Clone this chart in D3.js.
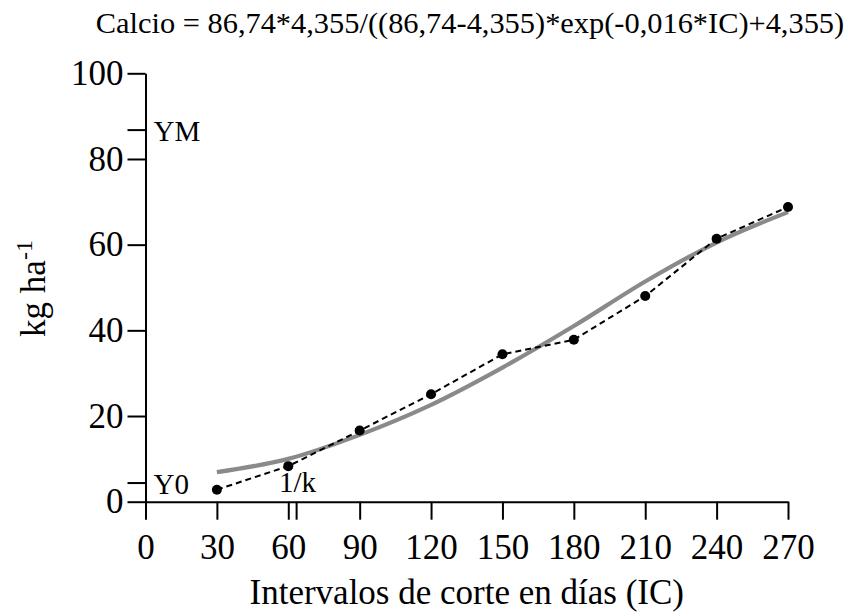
<!DOCTYPE html>
<html>
<head>
<meta charset="utf-8">
<script src="https://cdn.jsdelivr.net/npm/d3@7"></script>
<style>
  body { margin: 0; background: #fff; }
  text { font-family: "Liberation Serif", "Times New Roman", serif; fill: #000; }
</style>
</head>
<body>
<div id="chart"></div>
<script>
// data
const icDays = [30, 60, 90, 120, 150, 180, 210, 240, 270];
const calcioObs = [2.8, 8.3, 16.6, 25.1, 34.4, 37.8, 48.0, 61.4, 68.8];
const calcioFit = [6.9, 10.0, 15.6, 22.6, 31.3, 41.0, 51.4, 60.5, 67.6];
const xTicks = [0, 30, 60, 90, 120, 150, 180, 210, 240, 270];
const yTicks = [0, 20, 40, 60, 80, 100];
const yRefTicks = [{label: "YM", value: 86.74}, {label: "Y0", value: 4.355}];
const xRefTicks = [{label: "1/k", value: 63.5}];
const titleText = "Calcio = 86,74*4,355/((86,74-4,355)*exp(-0,016*IC)+4,355)";

const width = 848, height = 616;
const plotLeft = 145.5, plotRight = 788, plotTop = 73.3, plotBottom = 501.7;
const tickLen = 18;

const svg = d3.select("#chart").append("svg")
    .attr("width", width)
    .attr("height", height);

const x = d3.scaleLinear().domain([0, 270]).range([plotLeft, plotRight]);
const y = d3.scaleLinear().domain([0, 100]).range([plotBottom, plotTop]);

// fitted curve (grey)
const fitLine = d3.line()
    .x((d, i) => x(icDays[i]))
    .y(d => y(d))
    .curve(d3.curveMonotoneX);

svg.append("path")
    .datum(calcioFit)
    .attr("d", fitLine)
    .attr("fill", "none")
    .attr("stroke", "#8a8a8a")
    .attr("stroke-width", 4.2);

// observed values, dashed
const obsLine = d3.line()
    .x((d, i) => x(icDays[i]))
    .y(d => y(d));

svg.append("path")
    .datum(calcioObs)
    .attr("d", obsLine)
    .attr("fill", "none")
    .attr("stroke", "#000")
    .attr("stroke-width", 2)
    .attr("stroke-dasharray", "6,4");

svg.append("g")
    .selectAll("circle")
    .data(calcioObs)
    .join("circle")
    .attr("cx", (d, i) => x(icDays[i]))
    .attr("cy", d => y(d))
    .attr("r", 5)
    .attr("fill", "#000");

// axes
const xAxis = svg.append("g")
    .attr("transform", `translate(0,${plotBottom})`)
    .call(d3.axisBottom(x).tickValues(xTicks).tickSize(tickLen).tickSizeOuter(0).tickPadding(14));

const yAxis = svg.append("g")
    .attr("transform", `translate(${plotLeft},0)`)
    .call(d3.axisLeft(y).tickValues(yTicks).tickSize(tickLen).tickSizeOuter(0).tickPadding(4));

[xAxis, yAxis].forEach(g => {
    g.selectAll("path, line").attr("stroke", "#000").attr("stroke-width", 2);
    g.selectAll("text").attr("font-size", 35).attr("font-family", "Liberation Serif").attr("fill", "#000");
});

// reference ticks
svg.append("g")
    .selectAll("line")
    .data(yRefTicks)
    .join("line")
    .attr("x1", plotLeft - tickLen)
    .attr("x2", plotLeft)
    .attr("y1", d => y(d.value))
    .attr("y2", d => y(d.value))
    .attr("stroke", "#000")
    .attr("stroke-width", 2);

svg.append("g")
    .selectAll("text")
    .data(yRefTicks)
    .join("text")
    .attr("x", plotLeft + 8)
    .attr("y", d => y(d.value) + 11)
    .attr("font-size", 29)
    .text(d => d.label);

svg.append("g")
    .selectAll("line")
    .data(xRefTicks)
    .join("line")
    .attr("x1", d => x(d.value))
    .attr("x2", d => x(d.value))
    .attr("y1", plotBottom)
    .attr("y2", plotBottom + tickLen)
    .attr("stroke", "#000")
    .attr("stroke-width", 2);

svg.append("g")
    .selectAll("text")
    .data(xRefTicks)
    .join("text")
    .attr("x", d => x(d.value) + 1)
    .attr("y", plotBottom - 10)
    .attr("text-anchor", "middle")
    .attr("font-size", 29)
    .text(d => d.label);

// title and axis labels
svg.append("text")
    .attr("x", 470)
    .attr("y", 33)
    .attr("text-anchor", "middle")
    .attr("font-size", 30.4)
    .text(titleText);

svg.append("text")
    .attr("x", (plotLeft + plotRight) / 2)
    .attr("y", 604)
    .attr("text-anchor", "middle")
    .attr("font-size", 35)
    .text("Intervalos de corte en días (IC)");

const yLab = svg.append("text")
    .attr("transform", `translate(45,${(plotTop + plotBottom) / 2 + 1}) rotate(-90)`)
    .attr("text-anchor", "middle")
    .attr("font-size", 35);
yLab.append("tspan").text("kg ha");
yLab.append("tspan").attr("dy", -13).attr("font-size", 24).text("-1");
</script>
</body>
</html>
